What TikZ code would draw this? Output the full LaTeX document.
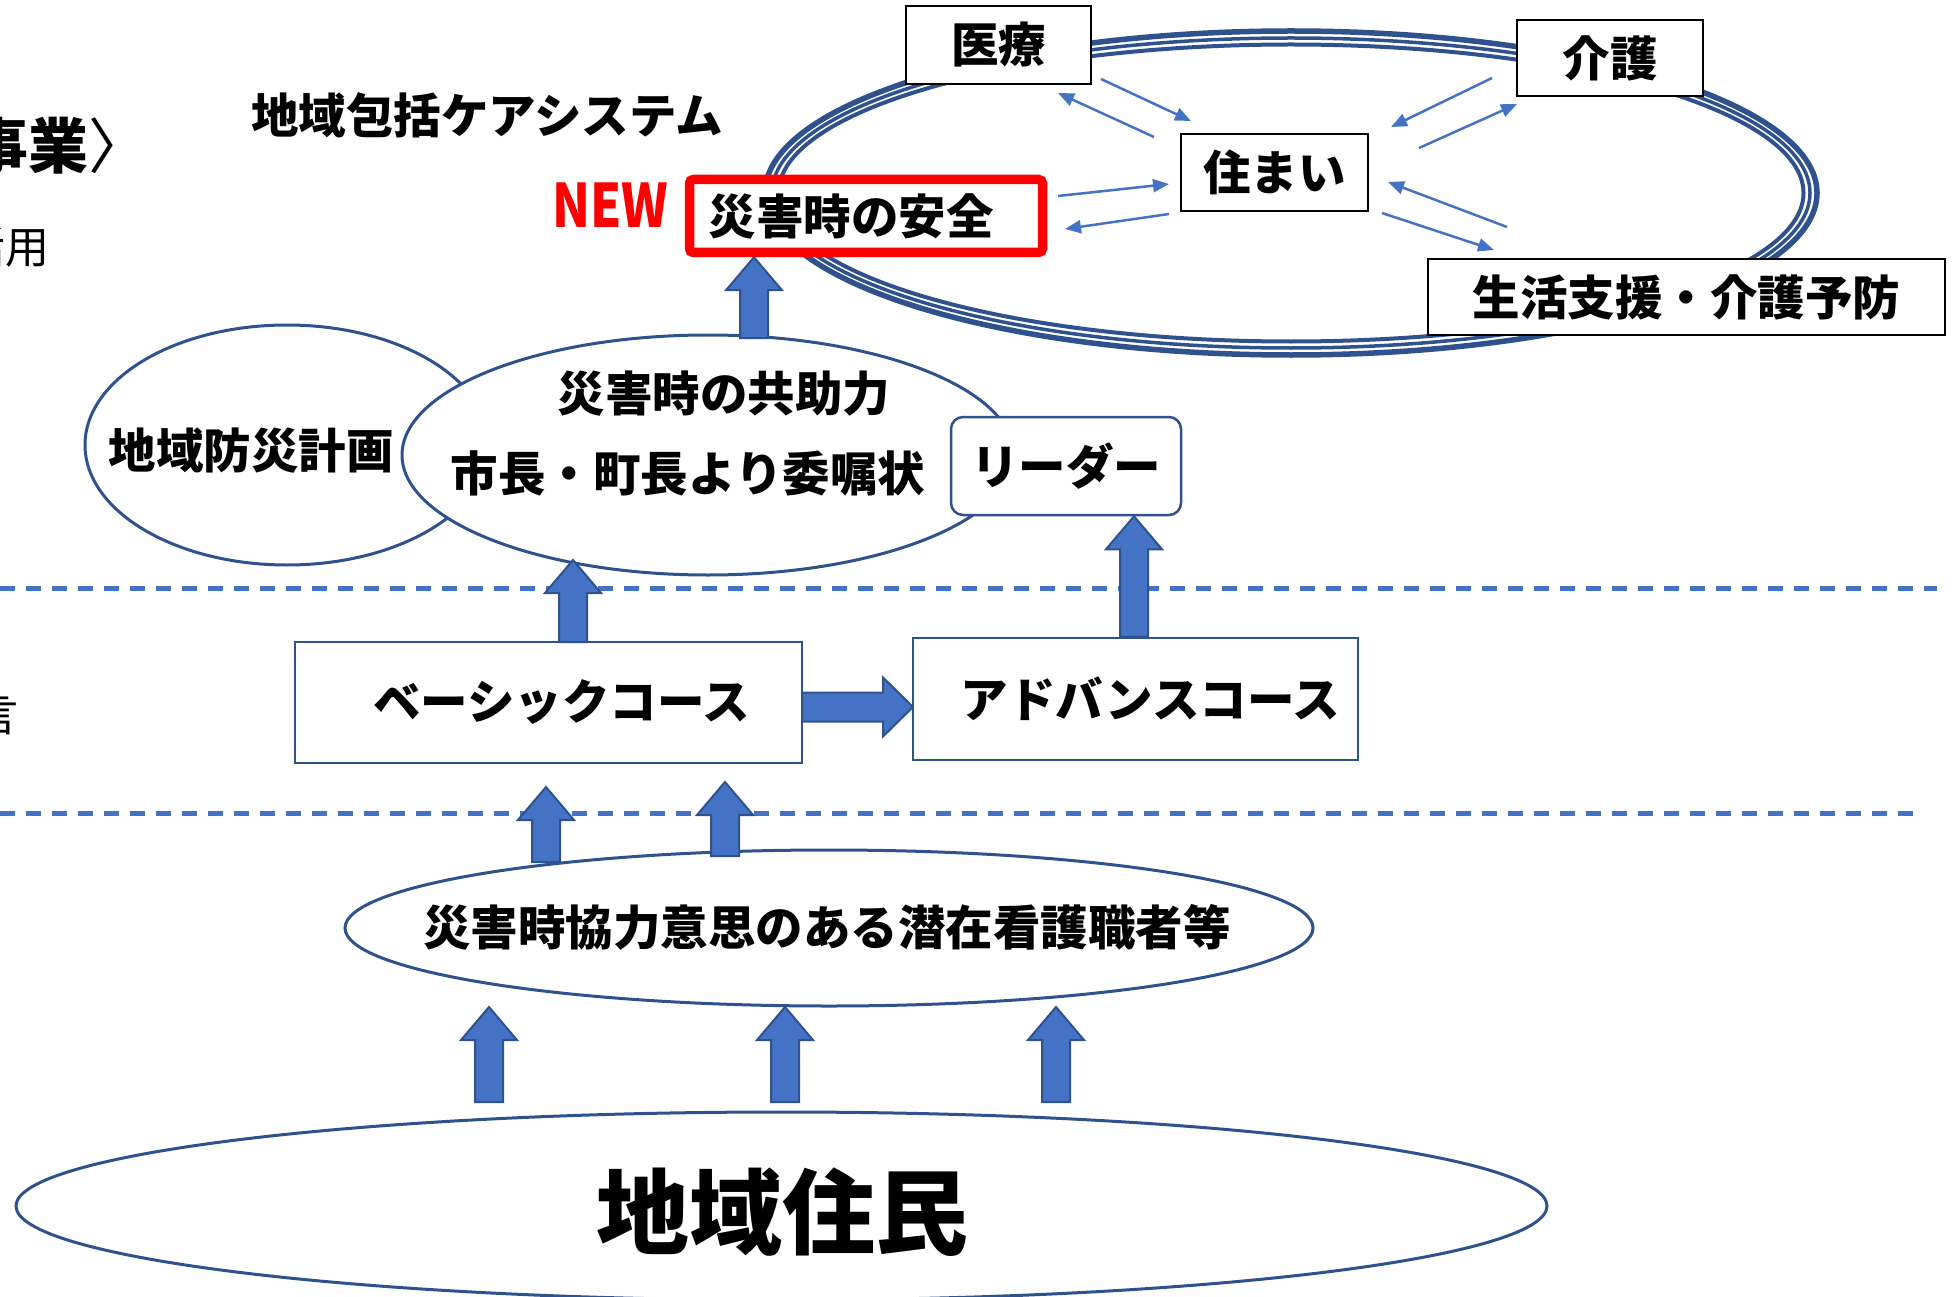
\documentclass[tikz,border=0pt]{standalone}
\usepackage{graphicx}
\usepackage{fontspec}
\setmainfont{Noto Sans CJK JP}
\usetikzlibrary{arrows.meta,calc,shapes.geometric}
\definecolor{blk}{HTML}{4472C4}
\definecolor{dkb}{HTML}{2F528F}
\newcommand\lbl{\fontsize{47.5}{52}\selectfont\bfseries}
\newcommand\blkup[2]{%
  \draw[blockarrow] ($(#1)+(-14,0)$) -- ($(#2)+(-14,33)$) -- ($(#2)+(-28,33)$) -- (#2) -- ($(#2)+(28,33)$) -- ($(#2)+(14,33)$) -- ($(#1)+(14,0)$) -- cycle;}
\newcommand\blkright[2]{%
  \draw[blockarrow] ($(#1)+(0,-14.5)$) -- ($(#2)+(-30,-14.5)$) -- ($(#2)+(-30,-29.5)$) -- (#2) -- ($(#2)+(-30,29.5)$) -- ($(#2)+(-30,14.5)$) -- ($(#1)+(0,14.5)$) -- cycle;}
\begin{document}
\begin{tikzpicture}[x=1pt,y=-1pt,
  box/.style={draw=black,line width=2.5pt,fill=white,inner sep=0pt,font=\lbl},
  bluebox/.style={draw=dkb,line width=2.5pt,fill=white,inner sep=0pt,font=\lbl},
  ell/.style={ellipse,draw=dkb,line width=3pt,fill=white,inner sep=0pt},
  lbltext/.style={inner sep=0pt,font=\lbl},
  thinarr/.style={draw=blk,line width=2.5pt,-{Triangle[length=16pt,width=13pt]}},
  blockarrow/.style={fill=blk,draw=dkb,line width=2pt,line join=miter},
  dashline/.style={draw=blk,line width=5pt,dash pattern=on 15pt off 11pt},
  ring/.style={draw=dkb}]
\useasboundingbox (0,0) rectangle (1959,1297);

% cut-off texts at the left edge
\node[anchor=west,inner sep=0pt,font=\fontsize{60}{66}\selectfont] (frag1) at (-32,146) {{\bfseries 事業}〉};
\node[anchor=east,inner sep=0pt,font=\fontsize{44}{48}\selectfont] (frag2) at (50,247) {活用};
\node[anchor=east,inner sep=0pt,font=\fontsize{44}{48}\selectfont] (frag3) at (19,715) {助言};

% dashed separators
\coordinate (d1a) at (0,588); \coordinate (d1b) at (1937,588);
\coordinate (d2a) at (0,813); \coordinate (d2b) at (1914,813);
\draw[dashline] (d1a) -- (d1b);
\draw[dashline] (d2a) -- (d2b);

% care-system ring
\coordinate (ringc) at (1291,193);
\draw[ring,line width=5.5pt] (ringc) ellipse [x radius=526, y radius=162];
\draw[ring,line width=3.5pt] (ringc) ellipse [x radius=519, y radius=155];
\draw[ring,line width=4pt] (ringc) ellipse [x radius=512.5, y radius=148.5];

% boxes of the care system
\node[box,minimum width=185pt,minimum height=78pt] (iryo) at (998.5,45) {医療};
\node[box,minimum width=186pt,minimum height=76pt] (kaigo) at (1610,58) {介護};
\node[box,minimum width=187pt,minimum height=77pt] (sumai) at (1274.5,172.5) {住まい};
\node[box,minimum width=517pt,minimum height=76pt] (seikatsu) at (1686.5,297) {生活支援・介護予防};
\node[box,draw=red,line width=9.5pt,rounded corners=4pt,minimum width=353pt,minimum height=73pt] (safety) at (866,216) {災害時の安全\hspace*{30pt}};

\node[lbltext] (title) at (487,115) {地域包括ケアシステム};
\node[inner sep=0pt,text=red,font=\fontsize{60}{66}\selectfont\bfseries] (new) at (610,205) {\scalebox{0.83}[1]{NEW}};

% thin arrows around 住まい
\coordinate (t1s) at (1101,79);  \coordinate (t1e) at (1191,121);
\coordinate (t2s) at (1154,137); \coordinate (t2e) at (1058,93);
\coordinate (t3s) at (1492,78);  \coordinate (t3e) at (1391,127);
\coordinate (t4s) at (1419,148); \coordinate (t4e) at (1517,104);
\coordinate (t5s) at (1058,196); \coordinate (t5e) at (1169,184);
\coordinate (t6s) at (1169,214); \coordinate (t6e) at (1065,229);
\coordinate (t7s) at (1507,227); \coordinate (t7e) at (1388,182);
\coordinate (t8s) at (1382,213); \coordinate (t8e) at (1494,250);
\foreach \i in {1,...,8} {\draw[thinarr] (t\i s) -- (t\i e);}

% middle level
\node[ell,minimum width=404pt,minimum height=240pt] (bousai) at (287,445) {};
\node[lbltext] (bousaitxt) at (251,451) {地域防災計画};
\node[ell,minimum width=612pt,minimum height=240pt] (kyojo) at (708,455) {};
\node[lbltext] (kyojo1) at (724,394) {災害時の共助力};
\node[lbltext] (kyojo2) at (688,473) {市長・町長より委嘱状};
\node[bluebox,rounded corners=12pt,minimum width=230pt,minimum height=98pt] (leader) at (1066,466) {リーダー};

% courses
\node[bluebox,minimum width=507pt,minimum height=121pt] (basic) at (548.5,702.5) {\hspace*{26pt}ベーシックコース};
\node[bluebox,minimum width=445pt,minimum height=122pt] (adv) at (1135.5,699) {\hspace*{30pt}アドバンスコース};

% lower ellipses
\node[ell,minimum width=968pt,minimum height=156pt] (senzai) at (829,928) {};
\node[lbltext] (senzaitxt) at (827,927) {災害時協力意思のある潜在看護職者等};
\node[ell,minimum width=1531pt,minimum height=188pt] (jumin) at (781.5,1206) {};
\node[inner sep=0pt,font=\fontsize{93}{100}\selectfont\bfseries] (jumintxt) at (782,1212) {地域住民};

% block arrows
\coordinate (a1x) at (754,0);
\coordinate (a1s) at (754,338); \coordinate (a1t) at (safety.south -| a1x);
\coordinate (a2s) at (573,642); \coordinate (a2t) at (573,560);
\coordinate (a3x) at (1134,0);
\coordinate (a3s) at (adv.north -| a3x); \coordinate (a3t) at (leader.south -| a3x);
\coordinate (a4s) at (546,862); \coordinate (a4t) at (546,787);
\coordinate (a5s) at (725,856); \coordinate (a5t) at (725,782);
\coordinate (a6s) at (489,1102); \coordinate (a6t) at (489,1007);
\coordinate (a7s) at (785,1102); \coordinate (a7t) at (785,1007);
\coordinate (a8s) at (1056,1102); \coordinate (a8t) at (1056,1007);
\blkup{a1s}{a1t}
\blkup{a2s}{a2t}
\blkup{a3s}{a3t}
\blkup{a4s}{a4t}
\blkup{a5s}{a5t}
\blkup{a6s}{a6t}
\blkup{a7s}{a7t}
\blkup{a8s}{a8t}
\coordinate (h1s) at (802,707); \coordinate (h1t) at (913,707);
\blkright{h1s}{h1t}
\end{tikzpicture}
\end{document}
